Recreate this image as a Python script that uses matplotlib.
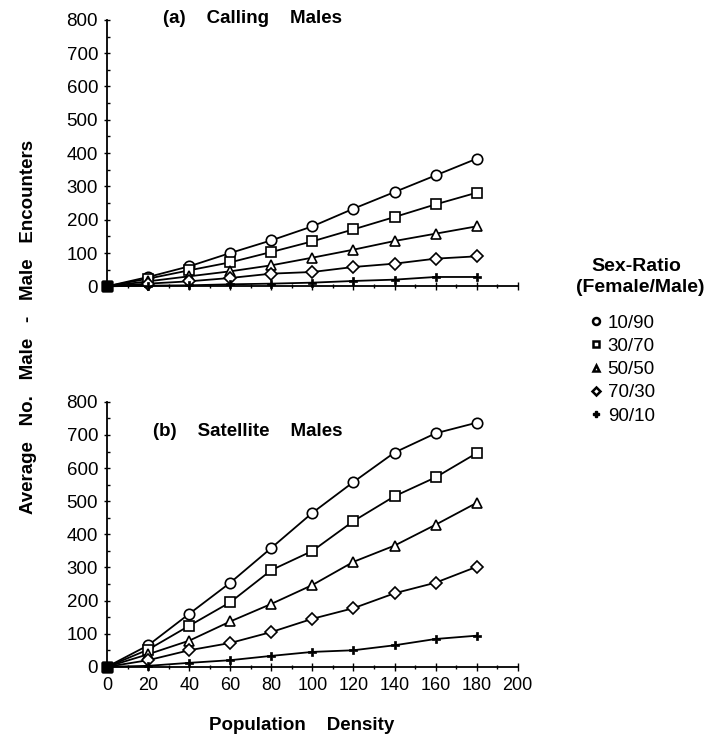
import matplotlib.pyplot as plt
from matplotlib.lines import Line2D
from matplotlib.ticker import MultipleLocator

plt.rcParams['font.family'] = ['Liberation Sans', 'DejaVu Sans']

density = [0, 20, 40, 60, 80, 100, 120, 140, 160, 180]
ratios = ['10/90', '30/70', '50/50', '70/30', '90/10']
markers = ['o', 's', '^', 'D', 'P']

# (a) calling males
calling = {
    '10/90': [0, 28, 60, 100, 138, 180, 233, 283, 333, 383],
    '30/70': [0, 23, 48, 72, 103, 135, 171, 208, 246, 281],
    '50/50': [0, 15, 30, 45, 63, 86, 110, 136, 158, 180],
    '70/30': [0, 8, 15, 25, 38, 43, 58, 68, 83, 90],
    '90/10': [0, 2, 3, 6, 8, 11, 16, 20, 28, 28],
}
# (b) satellite males
satellite = {
    '10/90': [0, 65, 160, 254, 359, 465, 558, 647, 705, 737],
    '30/70': [0, 52, 124, 195, 292, 350, 440, 515, 572, 645],
    '50/50': [0, 38, 79, 137, 190, 247, 317, 366, 429, 495],
    '70/30': [0, 20, 50, 72, 105, 145, 177, 222, 254, 302],
    '90/10': [0, 3, 12, 20, 33, 45, 50, 65, 84, 94],
}

fig = plt.figure(figsize=(7.19, 7.36), dpi=100)
ax1 = fig.add_axes([0.149, 0.611, 0.571, 0.362])
ax2 = fig.add_axes([0.149, 0.094, 0.571, 0.360])


def draw(ax, data):
    for r, m in zip(ratios, markers):
        x, y = density[1:], data[r][1:]
        ax.plot(density, data[r], color='black', lw=1.3, clip_on=False, zorder=2)
        if m == 'P':
            ax.plot(x, y, ls='none', marker='P', ms=6, mfc='black', mec='black',
                    mew=0.5, clip_on=False, zorder=3)
        else:
            ms = 6.5 if m == 'D' else 7.5
            ax.plot(x, y, ls='none', marker=m, ms=ms, mfc='white', mec='black',
                    mew=1.2, clip_on=False, zorder=3)
        # starting point drawn as a filled square
        ax.plot(density[:1], data[r][:1], ls='none', marker='s', ms=6.5,
                mfc='black', mec='black', clip_on=False, zorder=4)
    ax.set_xlim(0, 200)
    ax.set_ylim(0, 800)
    ax.spines['top'].set_visible(False)
    ax.spines['right'].set_visible(False)
    ax.spines['left'].set_linewidth(1.3)
    ax.spines['bottom'].set_linewidth(1.3)
    ax.yaxis.set_major_locator(MultipleLocator(100))
    ax.yaxis.set_minor_locator(MultipleLocator(50))
    ax.xaxis.set_major_locator(MultipleLocator(20))
    ax.xaxis.set_minor_locator(MultipleLocator(10))
    ax.tick_params(axis='y', which='major', direction='inout', length=5, width=1,
                   labelsize=13.5, pad=4)
    ax.tick_params(axis='y', which='minor', direction='in', length=2, width=1)
    ax.tick_params(axis='x', which='major', direction='inout', length=6, width=1,
                   labelsize=13, pad=4)
    ax.tick_params(axis='x', which='minor', direction='inout', length=3, width=1)


draw(ax1, calling)
draw(ax2, satellite)
ax1.tick_params(axis='x', labelbottom=False)

ax1.text(0.136, 1.006, '(a)    Calling    Males', transform=ax1.transAxes,
         fontsize=13.5, fontweight='bold', va='center', ha='left')
ax2.text(0.112, 0.89, '(b)    Satellite    Males', transform=ax2.transAxes,
         fontsize=13.5, fontweight='bold', va='center', ha='left')

fig.text(0.42, 0.014, 'Population    Density', fontsize=13.5, fontweight='bold',
         ha='center', va='center')
fig.text(0.039, 0.556, 'Average   No.   Male   -   Male   Encounters', rotation=90,
         fontsize=13.5, fontweight='bold', ha='center', va='center')

fig.text(0.885, 0.638, 'Sex-Ratio', fontsize=14, fontweight='bold',
         ha='center', va='center')
fig.text(0.891, 0.609, '(Female/Male)', fontsize=14, fontweight='bold',
         ha='center', va='center')

handles = []
for r, m in zip(ratios, markers):
    if m == 'P':
        h = Line2D([], [], ls='none', marker='P', ms=5, mfc='black', mec='black')
    else:
        h = Line2D([], [], ls='none', marker=m, ms=5 if m != 'D' else 4.5,
                   mfc='white', mec='black', mew=1.8)
    handles.append(h)
fig.legend(handles, ratios, loc='upper left', bbox_to_anchor=(0.81, 0.583),
           frameon=False, fontsize=13.5, handlelength=0.6, handletextpad=0.35,
           labelspacing=0.33, borderaxespad=0)

fig.savefig('out.png', dpi=100)
